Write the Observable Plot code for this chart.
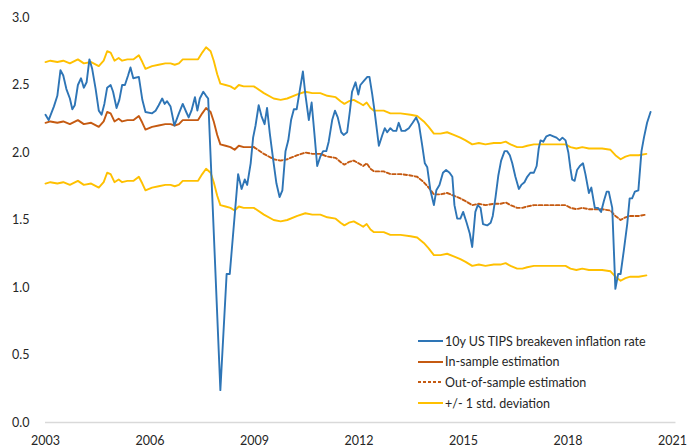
<!DOCTYPE html>
<html>
<head>
<meta charset="utf-8">
<script src="https://cdn.jsdelivr.net/npm/d3@7"></script>
<script src="https://cdn.jsdelivr.net/npm/@observablehq/plot@0.6"></script>
<style>
  html, body { margin: 0; padding: 0; background: #fff; }
  #wrap { position: relative; width: 690px; height: 448px; font-family: Lato, "Open Sans", sans-serif; }
  #legend { position: absolute; left: 418px; top: 331px; font-size: 12.5px; color: #262626; }
  .row { display: flex; align-items: center; height: 20.6px; }
  .row svg { margin-right: 2px; }
</style>
</head>
<body>
<div id="wrap"><div id="chart"></div><div id="legend"></div></div>
<script>
// ---- Data (decimal year on the chart's axis, value in %) ----
const tipsYears = [2003.00,2003.09,2003.24,2003.34,2003.43,2003.51,2003.60,2003.70,2003.77,2003.84,2003.93,2004.02,2004.10,2004.18,2004.26,2004.34,2004.44,2004.53,2004.61,2004.69,2004.77,2004.87,2004.94,2005.04,2005.12,2005.20,2005.28,2005.37,2005.44,2005.52,2005.68,2005.78,2005.87,2006.06,2006.16,2006.25,2006.35,2006.42,2006.49,2006.59,2006.70,2006.83,2006.94,2007.04,2007.11,2007.19,2007.29,2007.36,2007.43,2007.53,2007.61,2007.67,2008.02,2008.20,2008.29,2008.53,2008.63,2008.72,2008.79,2008.89,2008.96,2009.03,2009.12,2009.20,2009.29,2009.36,2009.44,2009.54,2009.63,2009.72,2009.80,2009.89,2009.97,2010.05,2010.13,2010.21,2010.30,2010.39,2010.46,2010.56,2010.64,2010.72,2010.80,2010.89,2010.97,2011.06,2011.13,2011.23,2011.31,2011.39,2011.49,2011.56,2011.66,2011.74,2011.80,2011.90,2011.98,2012.04,2012.14,2012.24,2012.30,2012.38,2012.45,2012.57,2012.67,2012.74,2012.81,2012.90,2012.98,2013.07,2013.14,2013.22,2013.32,2013.43,2013.54,2013.64,2013.72,2013.81,2013.89,2013.96,2014.05,2014.15,2014.22,2014.31,2014.41,2014.50,2014.60,2014.68,2014.74,2014.82,2014.91,2014.99,2015.09,2015.18,2015.25,2015.34,2015.41,2015.49,2015.56,2015.68,2015.78,2015.84,2015.92,2016.00,2016.08,2016.18,2016.25,2016.33,2016.40,2016.49,2016.59,2016.66,2016.75,2016.83,2016.92,2017.02,2017.10,2017.16,2017.21,2017.29,2017.38,2017.48,2017.58,2017.67,2017.76,2017.84,2017.93,2018.01,2018.07,2018.12,2018.19,2018.26,2018.34,2018.43,2018.50,2018.60,2018.67,2018.77,2018.86,2018.95,2019.03,2019.11,2019.17,2019.27,2019.36,2019.44,2019.51,2019.60,2019.70,2019.77,2019.84,2019.92,2020.02,2020.11,2020.18,2020.27,2020.37];
const tipsValues = [2.28,2.24,2.34,2.42,2.61,2.57,2.47,2.40,2.32,2.35,2.50,2.55,2.48,2.52,2.69,2.62,2.47,2.31,2.28,2.36,2.48,2.50,2.45,2.33,2.39,2.50,2.50,2.57,2.63,2.55,2.56,2.39,2.30,2.29,2.31,2.35,2.40,2.36,2.38,2.34,2.20,2.29,2.36,2.30,2.26,2.31,2.41,2.31,2.40,2.45,2.42,2.40,0.24,1.10,1.10,1.84,1.73,1.80,1.76,1.92,2.11,2.20,2.35,2.27,2.21,2.33,2.14,1.94,1.77,1.67,1.72,2.01,2.09,2.24,2.32,2.32,2.46,2.60,2.43,2.24,2.37,2.14,1.90,1.97,2.01,2.01,2.08,2.24,2.31,2.26,2.15,2.13,2.15,2.31,2.45,2.52,2.43,2.50,2.53,2.56,2.56,2.43,2.30,2.05,2.13,2.18,2.15,2.18,2.16,2.16,2.22,2.16,2.16,2.18,2.22,2.26,2.21,2.06,1.92,1.89,1.72,1.61,1.72,1.76,1.85,1.87,1.85,1.82,1.61,1.51,1.51,1.56,1.48,1.40,1.30,1.56,1.61,1.59,1.47,1.46,1.48,1.53,1.67,1.83,1.94,2.01,2.01,1.98,1.92,1.82,1.73,1.76,1.78,1.82,1.85,1.85,1.90,2.03,2.09,2.08,2.12,2.13,2.12,2.11,2.09,2.11,2.09,2.00,1.88,1.80,1.79,1.87,1.90,1.92,1.84,1.70,1.74,1.59,1.59,1.56,1.64,1.71,1.71,1.59,0.99,1.10,1.10,1.27,1.47,1.66,1.66,1.71,1.72,2.01,2.11,2.22,2.30];

const inSampleYears = [2003.00,2003.14,2003.34,2003.51,2003.70,2003.93,2004.10,2004.31,2004.53,2004.67,2004.77,2004.87,2004.98,2005.10,2005.20,2005.35,2005.53,2005.68,2005.78,2005.87,2006.06,2006.25,2006.44,2006.59,2006.71,2006.83,2006.94,2007.11,2007.38,2007.50,2007.61,2007.74,2007.83,2007.93,2008.02,2008.17,2008.31,2008.43,2008.55,2008.69,2008.98];
const inSampleValues = [2.22,2.23,2.22,2.23,2.21,2.24,2.21,2.22,2.19,2.23,2.30,2.29,2.23,2.25,2.23,2.24,2.24,2.27,2.22,2.17,2.19,2.20,2.21,2.21,2.20,2.21,2.24,2.24,2.24,2.29,2.33,2.30,2.23,2.13,2.06,2.05,2.04,2.02,2.05,2.04,2.04];

const outSampleYears = [2008.98,2009.27,2009.55,2009.75,2009.94,2010.23,2010.46,2010.66,2010.89,2011.09,2011.33,2011.47,2011.58,2011.71,2011.85,2011.99,2012.12,2012.22,2012.33,2012.43,2012.71,2012.90,2013.19,2013.48,2013.67,2013.86,2014.00,2014.15,2014.34,2014.53,2014.72,2014.91,2015.06,2015.25,2015.44,2015.63,2015.87,2016.06,2016.21,2016.35,2016.54,2016.69,2016.83,2017.02,2017.26,2017.50,2017.74,2017.93,2018.07,2018.24,2018.41,2018.60,2018.79,2018.98,2019.22,2019.36,2019.51,2019.65,2019.79,2020.03,2020.25];
const outSampleValues = [2.04,1.99,1.95,1.94,1.95,1.98,2.00,1.99,1.99,1.97,1.96,1.93,1.91,1.93,1.94,1.92,1.90,1.92,1.88,1.86,1.86,1.84,1.84,1.83,1.82,1.78,1.74,1.69,1.69,1.70,1.68,1.66,1.64,1.61,1.62,1.61,1.62,1.62,1.63,1.61,1.59,1.59,1.60,1.61,1.61,1.61,1.61,1.61,1.59,1.58,1.59,1.58,1.58,1.58,1.57,1.53,1.50,1.52,1.53,1.53,1.54];

// one standard deviation of the estimation, as read from the band width
const stdDeviation = 0.45;

const xTicks = [2003, 2006, 2009, 2012, 2015, 2018, 2021];
const yTicks = [0, 0.5, 1.0, 1.5, 2.0, 2.5, 3.0];

const seriesNames = ["10y US TIPS breakeven inflation rate", "In-sample estimation", "Out-of-sample estimation", "+/- 1 std. deviation"];
const seriesColors = ["#2E75B6", "#C55A11", "#C55A11", "#FFC000"];

// ---- Build tables ----
const tips = tipsYears.map((x, i) => ({x, y: tipsValues[i]}));
const inSample = inSampleYears.map((x, i) => ({x, y: inSampleValues[i]}));
const outSample = outSampleYears.map((x, i) => ({x, y: outSampleValues[i]}));
const estimate = inSample.concat(outSample.slice(1));
const upper = estimate.map(d => ({x: d.x, y: d.y + stdDeviation}));
const lower = estimate.map(d => ({x: d.x, y: d.y - stdDeviation}));

const chart = Plot.plot({
  width: 690,
  height: 448,
  marginLeft: 45,
  marginRight: 18,
  marginTop: 17,
  marginBottom: 26,
  style: {fontFamily: "Lato, 'Open Sans', sans-serif", fontSize: "12.5px", color: "#262626", background: "#fff"},
  x: {domain: [2003, 2021], ticks: xTicks, tickFormat: d => String(d), tickSize: 0, tickPadding: 14, label: null},
  y: {domain: [0, 3], ticks: yTicks, tickFormat: d3.format(".1f"), tickSize: 0, tickPadding: 16, label: null},
  marks: [
    Plot.ruleY([0], {x1: 2003, x2: 2021.1, stroke: "#d9d9d9", strokeWidth: 1.5}),
    Plot.line(upper, {x: "x", y: "y", stroke: seriesColors[3], strokeWidth: 1.9}),
    Plot.line(lower, {x: "x", y: "y", stroke: seriesColors[3], strokeWidth: 1.9}),
    Plot.line(inSample, {x: "x", y: "y", stroke: seriesColors[1], strokeWidth: 1.9}),
    Plot.line(outSample, {x: "x", y: "y", stroke: seriesColors[2], strokeWidth: 1.9, strokeDasharray: "3.5,2.2"}),
    Plot.line(tips, {x: "x", y: "y", stroke: seriesColors[0], strokeWidth: 1.9})
  ]
});
document.getElementById("chart").appendChild(chart);

// ---- Legend ----
const legend = document.getElementById("legend");
seriesNames.forEach((name, i) => {
  const row = document.createElement("div");
  row.className = "row";
  const dash = i === 2 ? ' stroke-dasharray="3,2"' : '';
  row.innerHTML = `<svg width="25" height="4"><line x1="0" x2="25" y1="2" y2="2" stroke="${seriesColors[i]}" stroke-width="2"${dash}/></svg><span>${name}</span>`;
  legend.appendChild(row);
});
</script>
</body>
</html>
